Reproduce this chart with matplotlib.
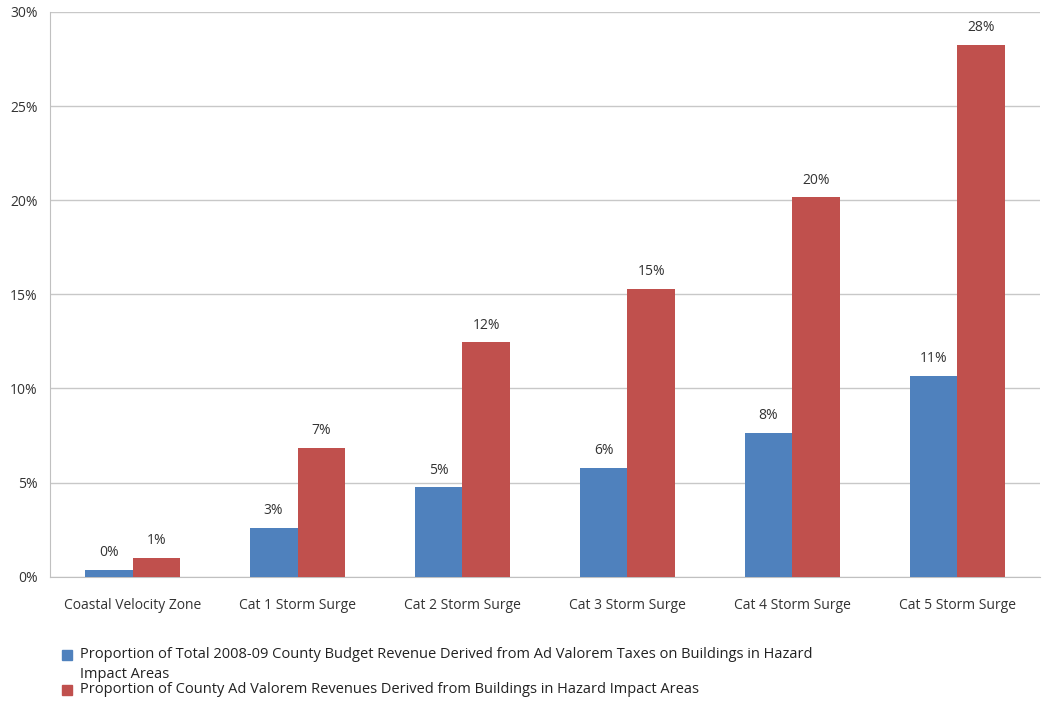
import matplotlib.pyplot as plt
import numpy as np
from matplotlib.patches import Rectangle
from matplotlib.ticker import FuncFormatter

categories = ['Coastal Velocity Zone', 'Cat 1 Storm Surge', 'Cat 2 Storm Surge',
              'Cat 3 Storm Surge', 'Cat 4 Storm Surge', 'Cat 5 Storm Surge']
budget_share = [0.37, 2.6, 4.75, 5.8, 7.65, 10.65]
advalorem_share = [1.0, 6.85, 12.45, 15.3, 20.15, 28.25]
budget_labels = ['0%', '3%', '5%', '6%', '8%', '11%']
advalorem_labels = ['1%', '7%', '12%', '15%', '20%', '28%']
legend_labels = ['Proportion of Total 2008-09 County Budget Revenue Derived from Ad Valorem Taxes on Buildings in Hazard\nImpact Areas',
                 'Proportion of County Ad Valorem Revenues Derived from Buildings in Hazard Impact Areas']

blue = '#4f81bd'
red = '#c0504d'
plt.rcParams['font.family'] = ['Open Sans', 'DejaVu Sans']

fig = plt.figure(figsize=(10.44, 7.05), dpi=100)
ax = fig.add_axes([0.048, 0.182, 0.948, 0.801])

x = np.arange(len(categories))
w = 0.29
b1 = ax.bar(x - w / 2, budget_share, w, color=blue, zorder=3)
b2 = ax.bar(x + w / 2, advalorem_share, w, color=red, zorder=3)

for bars, labs in [(b1, budget_labels), (b2, advalorem_labels)]:
    for rect, lab in zip(bars, labs):
        ax.annotate(lab, (rect.get_x() + rect.get_width() / 2, rect.get_height()),
                    xytext=(0, 7), textcoords='offset points', ha='center', va='bottom',
                    fontsize=10, color='#333333')

ax.set_xlim(-0.5, len(categories) - 0.5)
ax.set_ylim(0, 30)
ax.set_yticks(np.arange(0, 31, 5))
ax.yaxis.set_major_formatter(FuncFormatter(lambda v, p: '%d%%' % v))
ax.set_xticks(x)
ax.set_xticklabels(categories)
ax.tick_params(axis='both', length=0, labelsize=10, colors='#333333')
ax.tick_params(axis='x', pad=15)
ax.tick_params(axis='y', pad=9)
ax.grid(axis='y', color='#c8c8c8', linewidth=1, zorder=0)
for s in ['top', 'right']:
    ax.spines[s].set_visible(False)
ax.spines['left'].set_color('#c0c0c0')
ax.spines['bottom'].set_color('#c0c0c0')

# legend drawn by hand below the axes
for col, lab, yc in zip([blue, red], legend_labels, [0.071, 0.021]):
    fig.patches.append(Rectangle((0.059, yc - 0.0075), 0.0095, 0.015, color=col,
                                 transform=fig.transFigure, figure=fig))
    fig.text(0.077, yc + 0.011, lab, fontsize=10.5, va='top', ha='left',
             color='#222222', linespacing=1.4)

fig.savefig('out.png', dpi=100)
